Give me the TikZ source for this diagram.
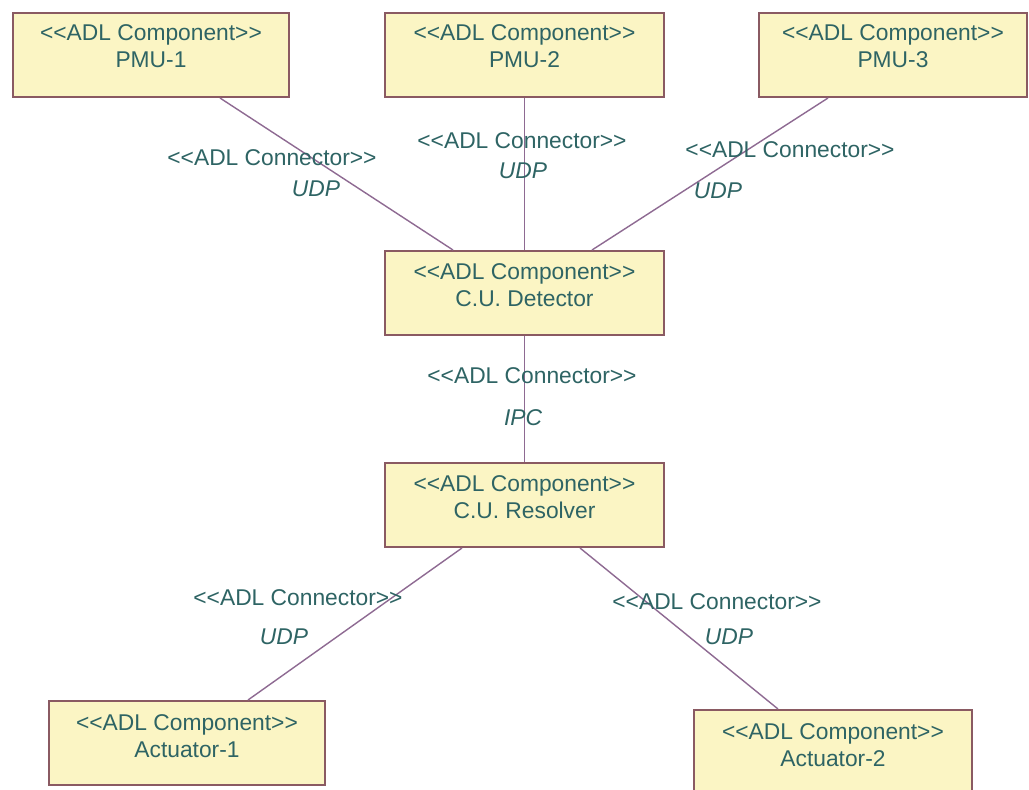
\documentclass[tikz,border=0pt]{standalone}
\usepackage{fontspec}
\setmainfont{Liberation Sans}[Ligatures=TeXOff]
\usetikzlibrary{calc}
\definecolor{boxfill}{HTML}{FBF5C4}
\definecolor{boxline}{HTML}{8A5A62}
\definecolor{wire}{HTML}{8E6A92}
\definecolor{ink}{HTML}{2E6464}
\tikzset{
  comp/.style={draw=boxline, line width=2pt, fill=boxfill, rectangle,
    minimum width=#1, minimum height=84pt, inner sep=0pt},
  comp/.default=278pt,
  ctext/.style={text=ink, align=center, font=\fontsize{22.8}{27.5}\selectfont, inner sep=0pt},
  ltext/.style={text=ink, font=\fontsize{22.8}{27}\selectfont, inner sep=0pt},
  wirestyle/.style={draw=wire, line width=1.4pt}
}
\begin{document}
\begin{tikzpicture}[x=1pt,y=-1pt]
\useasboundingbox (0,0) rectangle (1029,790);
\clip (0,0) rectangle (1029,790);
\fill[white] (0,0) rectangle (1029,790);

% components
\node[comp=276pt, anchor=north west] (pmu1) at (12,12) {};
\node[comp=279pt, anchor=north west] (pmu2) at (384,12) {};
\node[comp=268pt, anchor=north west] (pmu3) at (758,12) {};
\node[comp=279pt, anchor=north west] (det) at (384,250) {};
\node[comp=279pt, anchor=north west] (res) at (384,462) {};
\node[comp=276pt, anchor=north west] (act1) at (48,700) {};
\node[comp=278pt, anchor=north west] (act2) at (693,709) {};

% connectors
\draw[wirestyle] ([xshift=208pt]pmu1.south west) -- ([xshift=69pt]det.north west);
\draw[wirestyle] (pmu2.south) -- (det.north);
\draw[wirestyle] ([xshift=70pt]pmu3.south west) -- ([xshift=208pt]det.north west);
\draw[wirestyle] (det.south) -- (res.north);
\draw[wirestyle] ([xshift=78pt]res.south west) -- ([xshift=200pt]act1.north west);
\draw[wirestyle] ([xshift=196pt]res.south west) -- ([xshift=85pt]act2.north west);

% component texts
\node[ctext] (t1) at ([yshift=-34pt]pmu1.north) {<<ADL Component>>\\PMU-1};
\node[ctext] (t2) at ([yshift=-34pt]pmu2.north) {<<ADL Component>>\\PMU-2};
\node[ctext] (t3) at ([yshift=-34pt]pmu3.north) {<<ADL Component>>\\PMU-3};
\node[ctext] (t4) at ([yshift=-35pt]det.north) {<<ADL Component>>\\C.U. Detector};
\node[ctext] (t5) at ([yshift=-35pt]res.north) {<<ADL Component>>\\C.U. Resolver};
\node[ctext] (t6) at ([yshift=-36pt]act1.north) {<<ADL Component>>\\Actuator-1};
\node[ctext] (t7) at ([yshift=-36pt]act2.north) {<<ADL Component>>\\Actuator-2};

% connector labels
\node[ltext] (c1) at (272,158) {<<ADL Connector>>};
\node[ltext] (u1) at (316,189) {\itshape UDP};
\node[ltext] (c2) at (522,141) {<<ADL Connector>>};
\node[ltext] (u2) at (523,171) {\itshape UDP};
\node[ltext] (c3) at (790,150) {<<ADL Connector>>};
\node[ltext] (u3) at (718,191) {\itshape UDP};
\node[ltext] (c4) at (532,376) {<<ADL Connector>>};
\node[ltext] (u4) at (523,418) {\itshape IPC};
\node[ltext] (c5) at (298,598) {<<ADL Connector>>};
\node[ltext] (u5) at (284,637) {\itshape UDP};
\node[ltext] (c6) at (717,602) {<<ADL Connector>>};
\node[ltext] (u6) at (729,637) {\itshape UDP};
\end{tikzpicture}
\end{document}
